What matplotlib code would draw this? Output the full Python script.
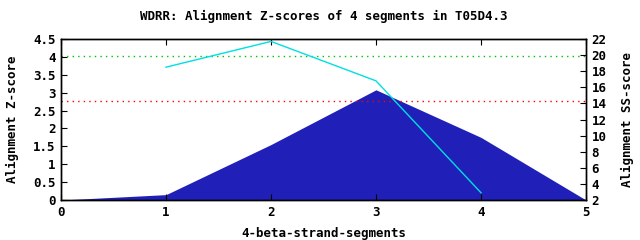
import matplotlib
matplotlib.use('Agg')
import matplotlib.pyplot as plt

# segment positions and scores
seg_x = [0, 1, 2, 3, 4, 5]
z_scores = [0.0, 0.15, 1.55, 3.08, 1.75, 0.0]

ss_x = [1, 2, 3, 4]
ss_scores = [18.5, 21.7, 16.8, 2.9]

green_level = 4.03
red_level = 2.78

title = 'WDRR: Alignment Z-scores of 4 segments in T05D4.3'

plt.rcParams['font.family'] = 'DejaVu Sans Mono'
plt.rcParams['font.size'] = 9
plt.rcParams['font.weight'] = 'bold'
plt.rcParams['axes.labelweight'] = 'bold'
plt.rcParams['axes.titleweight'] = 'bold'

fig = plt.figure(figsize=(6.4, 2.4), dpi=100)
ax = fig.add_axes([61 / 640, 1 - 200 / 240, (586 - 61) / 640, (200 - 39) / 240])

ax.fill_between(seg_x, z_scores, 0, color='#2020b8', linewidth=0)
ax.axhline(green_level, color='#00c000', linestyle=(0, (1, 3)), linewidth=1)
ax.axhline(red_level, color='#ff0000', linestyle=(0, (1, 3)), linewidth=1)

ax.set_xlim(0, 5)
ax.set_ylim(0, 4.5)
ax.set_xticks(range(6))
ax.set_yticks([0, 0.5, 1, 1.5, 2, 2.5, 3, 3.5, 4, 4.5])
ax.set_yticklabels(['0', '0.5', '1', '1.5', '2', '2.5', '3', '3.5', '4', '4.5'])
ax.tick_params(direction='in', top=True, length=4, pad=4)
ax.set_xlabel('4-beta-strand-segments', labelpad=6)
ax.set_ylabel('Alignment Z-score', labelpad=10)
ax.set_title(title, fontsize=9, pad=14)

ax2 = ax.twinx()
ax2.plot(ss_x, ss_scores, color='#00e0e0', linewidth=1)
ax2.set_ylim(2, 22)
ax2.set_yticks(range(2, 23, 2))
ax2.tick_params(direction='in', length=4, pad=4)
ax2.set_ylabel('Alignment SS-score', labelpad=10)

for a in (ax, ax2):
    for s in a.spines.values():
        s.set_linewidth(1)

fig.savefig('out.png', dpi=100)
